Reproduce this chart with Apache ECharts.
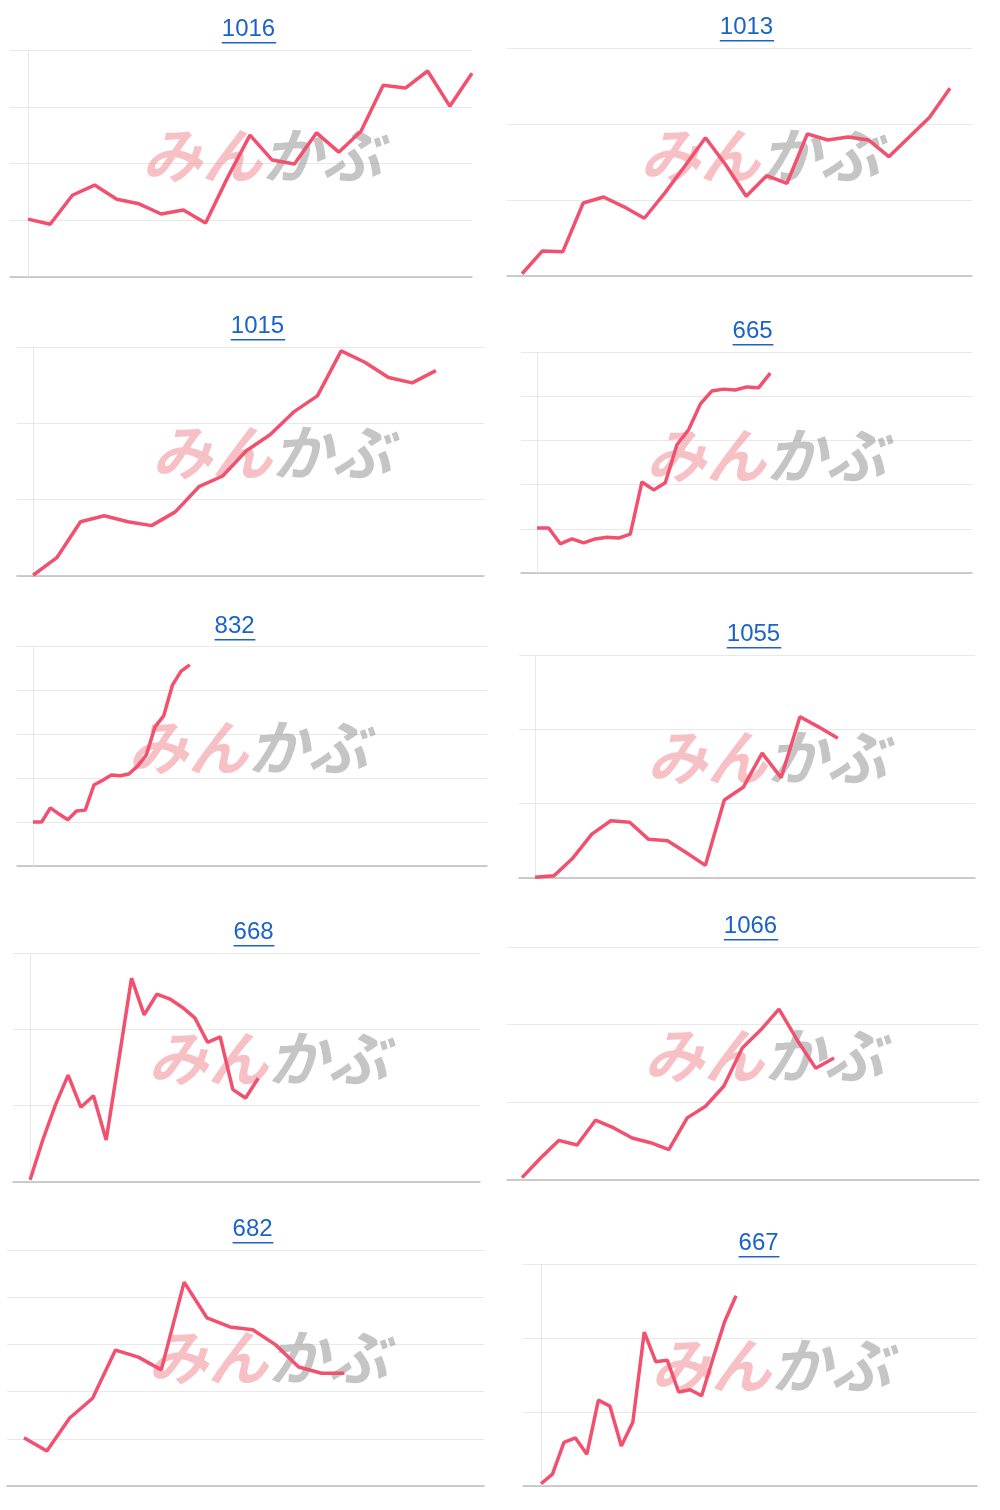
<!DOCTYPE html>
<html><head><meta charset="utf-8">
<script src="https://cdn.jsdelivr.net/npm/echarts@6/dist/echarts.min.js"></script>
<style>html,body{margin:0;background:#fff}#c{width:1000px;height:1510px}</style>
</head><body><div id="c"></div>
<script>
const titles = ['1016','1013','1015','665','832','1055','668','1066','682','667'];
const d1016 = [1.02,0.93,1.44,1.62,1.37,1.29,1.11,1.18,0.95,1.76,2.50,2.06,1.99,2.54,2.20,2.57,3.38,3.33,3.63,3.01,3.59];
const d1013 = [0.03,0.33,0.32,0.96,1.04,0.91,0.76,1.09,1.45,1.82,1.46,1.05,1.32,1.22,1.87,1.79,1.83,1.79,1.57,1.83,2.09,2.47];
const d1015 = [0.01,0.24,0.71,0.79,0.71,0.66,0.84,1.17,1.31,1.64,1.85,2.15,2.36,2.95,2.80,2.60,2.53,2.69];
const d665 = [1.02,1.02,0.66,0.77,0.68,0.77,0.81,0.79,0.88,2.06,1.88,2.04,2.90,3.24,3.82,4.12,4.16,4.14,4.21,4.19,4.52];
const d832 = [1.0,1.0,1.32,1.18,1.05,1.25,1.27,1.84,1.95,2.07,2.05,2.09,2.27,2.52,3.16,3.41,4.11,4.43,4.57];
const d1055 = [0.01,0.03,0.27,0.59,0.77,0.75,0.52,0.50,0.34,0.17,1.05,1.22,1.68,1.35,2.17,2.03,1.88];
const d668 = [0.03,0.55,1.01,1.40,0.98,1.13,0.55,1.60,2.67,2.19,2.46,2.40,2.29,2.15,1.83,1.90,1.21,1.10,1.36];
const d1066 = [0.03,0.28,0.51,0.45,0.77,0.67,0.54,0.48,0.39,0.80,0.95,1.21,1.70,1.93,2.20,1.80,1.44,1.57];
const d682 = [1.02,0.74,1.44,1.86,2.88,2.73,2.46,4.32,3.56,3.37,3.31,2.99,2.52,2.39,2.39];
const d667 = [0.03,0.16,0.59,0.65,0.43,1.16,1.08,0.54,0.86,2.08,1.68,1.70,1.27,1.30,1.22,1.73,2.22,2.57];
const datasets = [d1016,d1013,d1015,d665,d832,d1055,d668,d1066,d682,d667];
const gridIntervals = [4,3,3,5,5,3,3,3,5,3];

const L = [
 [249,30,10,472,50,277,-0.81,20,true,262,155],
 [747,28,507,972,48,276,-0.74,22.08,false,760,155],
 [258,327,17,484,347,576,-0.68,19.03,true,272,452],
 [753,332,521,972,352,573,-1.37,37.3,true,766,455],
 [235,627,17,487,646,866,-1.83,52.1,true,248,747],
 [754,635,519,975,655,878,-0.85,23.25,true,767,757],
 [254,933,13,480,953,1182,-1.35,35.5,true,268,1058],
 [751,927,507,979,947,1180,-0.82,24.9,false,764,1055],
 [253,1230,7,484,1250,1486,-0.74,20.1,false,268,1357],
 [759,1244,523,977,1264,1486,-1.57,38,true,771,1365]
];
const grid=[],xAxis=[],yAxis=[],series=[],graphic=[];
L.forEach((p,i)=>{
  grid.push({left:p[2],width:p[3]-p[2],top:p[4],height:p[5]-p[4]});
  xAxis.push({type:'value',gridIndex:i,min:p[6],max:p[7],axisLine:{show:true,lineStyle:{color:'#bdbdbd',width:1.5}},axisTick:{show:false},axisLabel:{show:false},splitLine:{show:false}});
  yAxis.push({type:'value',gridIndex:i,min:0,max:gridIntervals[i],interval:1,axisLine:{show:false},axisTick:{show:false},axisLabel:{show:false},splitLine:{lineStyle:{color:'#e8e8e8',width:1}}});
  const s={type:'line',xAxisIndex:i,yAxisIndex:i,data:datasets[i].map((v,j)=>[j,v]),symbol:'none',z:5,
    lineStyle:{color:'#f2506f',width:3.5},silent:true};
  if(p[8]) s.markLine={silent:true,symbol:'none',label:{show:false},lineStyle:{color:'#e8e8e8',type:'solid',width:1},data:[{xAxis:0}]};
  series.push(s);
  const t=titles[i], w=t.length*13.6;
  graphic.push({type:'text',left:p[0]-w/2,top:p[1]-13,z:10,style:{text:t,fill:'#1b63c9',font:'24px "Liberation Sans", Arial'}});
  graphic.push({type:'rect',shape:{x:p[0]-w/2,y:p[1]+12,width:w,height:1.5},style:{fill:'#1b63c9'},z:10});
  graphic.push({type:'text',x:p[9],y:p[10],z:1,style:{text:'{a|みん}{b|かぶ}',align:'center',verticalAlign:'middle',
    rich:{a:{fill:'rgba(238,130,140,0.5)',font:'italic bold 60px "Noto Sans CJK JP"'},b:{fill:'rgba(140,140,140,0.5)',font:'italic bold 60px "Noto Sans CJK JP"'}}}});
});
const chart=echarts.init(document.getElementById('c'));
chart.setOption({animation:false,grid,xAxis,yAxis,series,graphic});
</script></body></html>
